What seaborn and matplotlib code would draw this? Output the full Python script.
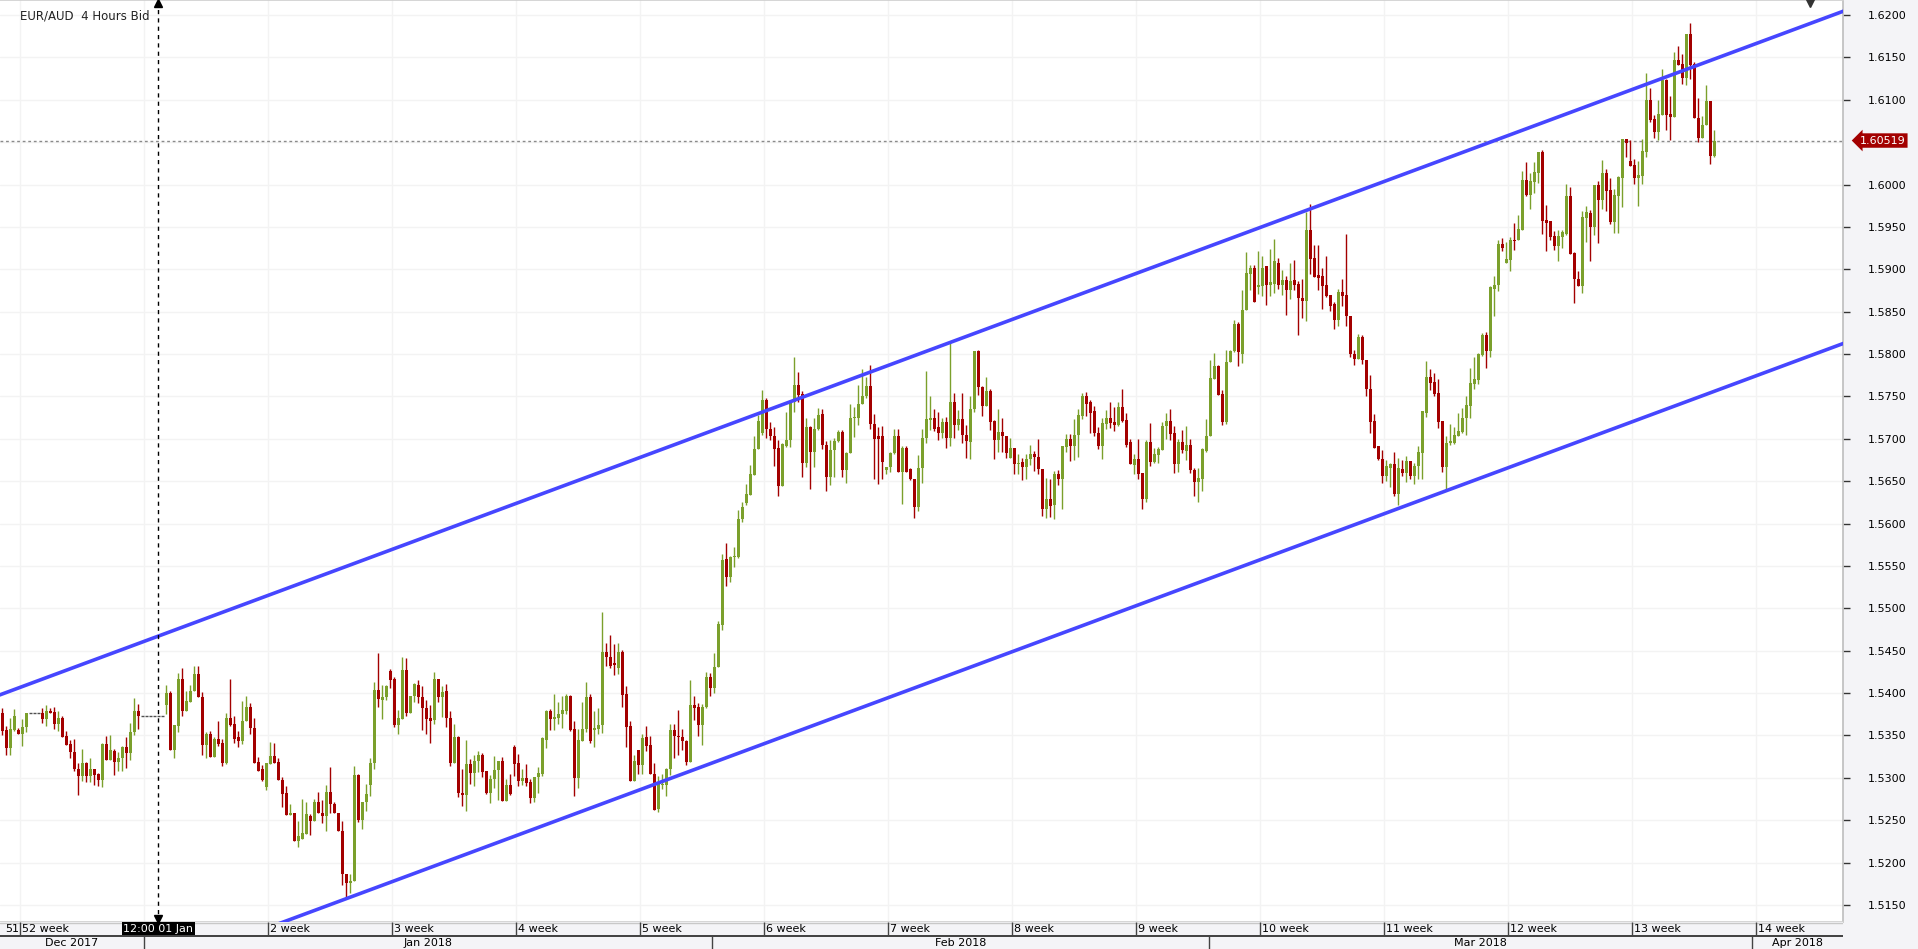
import numpy as np
import pandas as pd
import matplotlib
matplotlib.use("Agg")
import matplotlib.pyplot as plt
import matplotlib.transforms as mtransforms
from matplotlib.ticker import FormatStrFormatter
import seaborn as sns

# EUR/AUD 4h candles (open, high, low, close) in time order
seg_dec = [
    (1.5376, 1.5382, 1.5350, 1.5355), (1.5356, 1.5361, 1.5327, 1.5335), (1.5335, 1.5371, 1.5327, 1.5358),
    (1.5357, 1.5381, 1.5355, 1.5373), (1.5356, 1.5359, 1.5352, 1.5352), (1.5352, 1.5370, 1.5338, 1.5360),
    (1.5360, 1.5376, 1.5354, 1.5376), (1.5376, 1.5376, 1.5376, 1.5376), (1.5376, 1.5376, 1.5376, 1.5376),
    (1.5376, 1.5376, 1.5376, 1.5376), (1.5376, 1.5382, 1.5365, 1.5370), (1.5370, 1.5386, 1.5361, 1.5379),
    (1.5379, 1.5382, 1.5377, 1.5377), (1.5378, 1.5384, 1.5358, 1.5364), (1.5364, 1.5379, 1.5355, 1.5371),
    (1.5371, 1.5373, 1.5348, 1.5348), (1.5349, 1.5355, 1.5339, 1.5339), (1.5340, 1.5345, 1.5324, 1.5330),
    (1.5331, 1.5346, 1.5308, 1.5310), (1.5311, 1.5317, 1.5280, 1.5302), (1.5302, 1.5334, 1.5296, 1.5317),
    (1.5317, 1.5319, 1.5295, 1.5302), (1.5302, 1.5324, 1.5295, 1.5310), (1.5310, 1.5310, 1.5292, 1.5303),
    (1.5304, 1.5306, 1.5290, 1.5298), (1.5298, 1.5341, 1.5289, 1.5340), (1.5340, 1.5349, 1.5321, 1.5321),
    (1.5321, 1.5350, 1.5321, 1.5333), (1.5332, 1.5334, 1.5303, 1.5319), (1.5319, 1.5330, 1.5308, 1.5324),
    (1.5323, 1.5337, 1.5308, 1.5336), (1.5336, 1.5348, 1.5312, 1.5329), (1.5329, 1.5365, 1.5321, 1.5354),
    (1.5354, 1.5394, 1.5351, 1.5379), (1.5379, 1.5387, 1.5358, 1.5373),
]
seg_jan_a = [
    (1.5373, 1.5373, 1.5373, 1.5373), (1.5373, 1.5373, 1.5373, 1.5373), (1.5373, 1.5373, 1.5373, 1.5373),
    (1.5373, 1.5373, 1.5373, 1.5373), (1.5373, 1.5373, 1.5373, 1.5373), (1.5373, 1.5373, 1.5373, 1.5373),
    (1.5386, 1.5410, 1.5375, 1.5400), (1.5400, 1.5403, 1.5333, 1.5333), (1.5333, 1.5362, 1.5323, 1.5362),
    (1.5361, 1.5424, 1.5354, 1.5417), (1.5417, 1.5430, 1.5373, 1.5379), (1.5379, 1.5403, 1.5379, 1.5391),
    (1.5390, 1.5409, 1.5390, 1.5403), (1.5402, 1.5432, 1.5402, 1.5423), (1.5423, 1.5432, 1.5395, 1.5395),
    (1.5395, 1.5401, 1.5327, 1.5339), (1.5339, 1.5354, 1.5323, 1.5352), (1.5352, 1.5355, 1.5325, 1.5325),
    (1.5325, 1.5348, 1.5325, 1.5346), (1.5346, 1.5367, 1.5338, 1.5340), (1.5341, 1.5346, 1.5314, 1.5318),
    (1.5318, 1.5377, 1.5316, 1.5371), (1.5371, 1.5417, 1.5361, 1.5362), (1.5363, 1.5373, 1.5341, 1.5346),
    (1.5348, 1.5355, 1.5336, 1.5344), (1.5344, 1.5391, 1.5340, 1.5367), (1.5367, 1.5396, 1.5367, 1.5383),
    (1.5383, 1.5388, 1.5352, 1.5359), (1.5359, 1.5371, 1.5319, 1.5318), (1.5319, 1.5325, 1.5308, 1.5308),
    (1.5310, 1.5315, 1.5296, 1.5297), (1.5289, 1.5317, 1.5286, 1.5317), (1.5316, 1.5342, 1.5316, 1.5326),
    (1.5326, 1.5341, 1.5318, 1.5318), (1.5319, 1.5324, 1.5297, 1.5297), (1.5298, 1.5301, 1.5266, 1.5281),
    (1.5282, 1.5290, 1.5256, 1.5256), (1.5256, 1.5269, 1.5256, 1.5259), (1.5259, 1.5259, 1.5226, 1.5226),
    (1.5226, 1.5249, 1.5218, 1.5231), (1.5228, 1.5275, 1.5228, 1.5235), (1.5234, 1.5271, 1.5234, 1.5257),
    (1.5255, 1.5257, 1.5233, 1.5249), (1.5249, 1.5275, 1.5249, 1.5271), (1.5271, 1.5283, 1.5258, 1.5258),
    (1.5259, 1.5274, 1.5247, 1.5255), (1.5255, 1.5292, 1.5237, 1.5283),
]
seg_jan_b = [
    (1.5283, 1.5313, 1.5259, 1.5269), (1.5269, 1.5271, 1.5258, 1.5258), (1.5259, 1.5259, 1.5237, 1.5237),
    (1.5237, 1.5249, 1.5173, 1.5187), (1.5187, 1.5187, 1.5158, 1.5176), (1.5176, 1.5187, 1.5164, 1.5178),
    (1.5178, 1.5314, 1.5178, 1.5303), (1.5303, 1.5305, 1.5248, 1.5250), (1.5250, 1.5271, 1.5240, 1.5271),
    (1.5271, 1.5293, 1.5261, 1.5281), (1.5291, 1.5324, 1.5278, 1.5317), (1.5317, 1.5413, 1.5310, 1.5404),
    (1.5404, 1.5447, 1.5383, 1.5393), (1.5392, 1.5410, 1.5369, 1.5395), (1.5395, 1.5410, 1.5392, 1.5408),
    (1.5426, 1.5428, 1.5406, 1.5415), (1.5417, 1.5419, 1.5360, 1.5362), (1.5362, 1.5380, 1.5352, 1.5371),
    (1.5369, 1.5442, 1.5369, 1.5427), (1.5427, 1.5441, 1.5373, 1.5377), (1.5377, 1.5397, 1.5376, 1.5397),
    (1.5396, 1.5412, 1.5389, 1.5411), (1.5410, 1.5416, 1.5388, 1.5395), (1.5395, 1.5408, 1.5356, 1.5382),
    (1.5382, 1.5392, 1.5352, 1.5369), (1.5371, 1.5386, 1.5341, 1.5367), (1.5368, 1.5425, 1.5364, 1.5417),
    (1.5417, 1.5417, 1.5390, 1.5395), (1.5395, 1.5408, 1.5372, 1.5401), (1.5402, 1.5411, 1.5360, 1.5371),
    (1.5371, 1.5379, 1.5314, 1.5318), (1.5318, 1.5363, 1.5317, 1.5348), (1.5348, 1.5349, 1.5277, 1.5282),
    (1.5282, 1.5310, 1.5267, 1.5280), (1.5280, 1.5345, 1.5261, 1.5316), (1.5316, 1.5322, 1.5293, 1.5306),
    (1.5306, 1.5327, 1.5290, 1.5320), (1.5320, 1.5332, 1.5307, 1.5327), (1.5327, 1.5329, 1.5301, 1.5307),
    (1.5308, 1.5308, 1.5281, 1.5282), (1.5282, 1.5303, 1.5270, 1.5299), (1.5299, 1.5326, 1.5288, 1.5309),
    (1.5309, 1.5320, 1.5274, 1.5320), (1.5320, 1.5325, 1.5273, 1.5273), (1.5273, 1.5299, 1.5273, 1.5291),
    (1.5291, 1.5304, 1.5280, 1.5281), (1.5336, 1.5339, 1.5302, 1.5316), (1.5317, 1.5328, 1.5290, 1.5296),
    (1.5296, 1.5310, 1.5291, 1.5300), (1.5300, 1.5316, 1.5290, 1.5294), (1.5295, 1.5299, 1.5270, 1.5276),
    (1.5276, 1.5301, 1.5271, 1.5301), (1.5301, 1.5313, 1.5282, 1.5306), (1.5305, 1.5348, 1.5302, 1.5347),
    (1.5345, 1.5380, 1.5335, 1.5379), (1.5379, 1.5381, 1.5356, 1.5369), (1.5369, 1.5399, 1.5356, 1.5372),
    (1.5371, 1.5390, 1.5363, 1.5375), (1.5375, 1.5397, 1.5359, 1.5380), (1.5379, 1.5399, 1.5375, 1.5397),
    (1.5397, 1.5398, 1.5355, 1.5357), (1.5358, 1.5367, 1.5279, 1.5300), (1.5300, 1.5358, 1.5288, 1.5345),
    (1.5344, 1.5390, 1.5344, 1.5358), (1.5358, 1.5413, 1.5354, 1.5395), (1.5395, 1.5399, 1.5341, 1.5344),
    (1.5356, 1.5379, 1.5336, 1.5359), (1.5358, 1.5382, 1.5352, 1.5362), (1.5362, 1.5496, 1.5353, 1.5449),
    (1.5449, 1.5459, 1.5432, 1.5442), (1.5443, 1.5469, 1.5430, 1.5432), (1.5436, 1.5458, 1.5421, 1.5433),
    (1.5430, 1.5459, 1.5423, 1.5448), (1.5448, 1.5451, 1.5384, 1.5398), (1.5399, 1.5408, 1.5336, 1.5360),
    (1.5361, 1.5367, 1.5296, 1.5296), (1.5296, 1.5327, 1.5296, 1.5320), (1.5333, 1.5333, 1.5305, 1.5315),
    (1.5315, 1.5352, 1.5305, 1.5347), (1.5348, 1.5361, 1.5332, 1.5337), (1.5339, 1.5349, 1.5305, 1.5305),
    (1.5305, 1.5318, 1.5262, 1.5262), (1.5263, 1.5302, 1.5260, 1.5293),
]
seg_feb_a = [
    (1.5292, 1.5305, 1.5287, 1.5293), (1.5292, 1.5312, 1.5278, 1.5311), (1.5311, 1.5364, 1.5303, 1.5357),
    (1.5357, 1.5364, 1.5323, 1.5349), (1.5349, 1.5380, 1.5327, 1.5348), (1.5348, 1.5358, 1.5333, 1.5343),
    (1.5343, 1.5345, 1.5315, 1.5319), (1.5319, 1.5415, 1.5319, 1.5386), (1.5386, 1.5397, 1.5368, 1.5382),
    (1.5383, 1.5388, 1.5349, 1.5362), (1.5362, 1.5387, 1.5339, 1.5384), (1.5384, 1.5425, 1.5382, 1.5419),
    (1.5419, 1.5424, 1.5396, 1.5406), (1.5406, 1.5447, 1.5400, 1.5431), (1.5431, 1.5485, 1.5431, 1.5482),
    (1.5480, 1.5564, 1.5475, 1.5557), (1.5558, 1.5577, 1.5526, 1.5537), (1.5537, 1.5562, 1.5531, 1.5561),
    (1.5560, 1.5572, 1.5549, 1.5562), (1.5561, 1.5616, 1.5559, 1.5605), (1.5605, 1.5625, 1.5602, 1.5619),
    (1.5624, 1.5647, 1.5622, 1.5635), (1.5634, 1.5669, 1.5634, 1.5658), (1.5657, 1.5703, 1.5657, 1.5688),
    (1.5688, 1.5728, 1.5688, 1.5721), (1.5707, 1.5758, 1.5705, 1.5746), (1.5746, 1.5748, 1.5701, 1.5712),
    (1.5712, 1.5720, 1.5699, 1.5703), (1.5703, 1.5714, 1.5668, 1.5688), (1.5689, 1.5699, 1.5633, 1.5644),
    (1.5644, 1.5695, 1.5644, 1.5694), (1.5692, 1.5732, 1.5690, 1.5699), (1.5699, 1.5743, 1.5690, 1.5743),
    (1.5743, 1.5797, 1.5732, 1.5764), (1.5764, 1.5779, 1.5744, 1.5752), (1.5753, 1.5756, 1.5655, 1.5672),
    (1.5672, 1.5725, 1.5667, 1.5714), (1.5714, 1.5715, 1.5641, 1.5684), (1.5684, 1.5724, 1.5667, 1.5712),
    (1.5712, 1.5736, 1.5710, 1.5728), (1.5729, 1.5735, 1.5688, 1.5693), (1.5693, 1.5697, 1.5638, 1.5655),
    (1.5655, 1.5699, 1.5645, 1.5687), (1.5687, 1.5701, 1.5655, 1.5697), (1.5697, 1.5710, 1.5696, 1.5708),
    (1.5708, 1.5710, 1.5655, 1.5663), (1.5663, 1.5685, 1.5648, 1.5683), (1.5683, 1.5741, 1.5683, 1.5724),
    (1.5724, 1.5737, 1.5702, 1.5725), (1.5725, 1.5764, 1.5716, 1.5741), (1.5741, 1.5782, 1.5741, 1.5750),
    (1.5750, 1.5773, 1.5748, 1.5762), (1.5762, 1.5787, 1.5712, 1.5717), (1.5717, 1.5729, 1.5653, 1.5700),
    (1.5703, 1.5714, 1.5647, 1.5700), (1.5703, 1.5715, 1.5653, 1.5673), (1.5663, 1.5667, 1.5659, 1.5667),
    (1.5667, 1.5685, 1.5661, 1.5683), (1.5683, 1.5712, 1.5682, 1.5703), (1.5703, 1.5712, 1.5661, 1.5661),
    (1.5661, 1.5691, 1.5623, 1.5689), (1.5689, 1.5691, 1.5661, 1.5661), (1.5664, 1.5666, 1.5651, 1.5653),
    (1.5653, 1.5653, 1.5607, 1.5619), (1.5620, 1.5681, 1.5615, 1.5665), (1.5665, 1.5711, 1.5648, 1.5701),
    (1.5701, 1.5780, 1.5695, 1.5723), (1.5722, 1.5750, 1.5710, 1.5724), (1.5724, 1.5735, 1.5709, 1.5711),
    (1.5714, 1.5732, 1.5699, 1.5707), (1.5707, 1.5724, 1.5701, 1.5720), (1.5720, 1.5726, 1.5689, 1.5701),
    (1.5701, 1.5815, 1.5691, 1.5743), (1.5743, 1.5754, 1.5701, 1.5716), (1.5716, 1.5734, 1.5710, 1.5723),
    (1.5723, 1.5754, 1.5695, 1.5704), (1.5704, 1.5716, 1.5677, 1.5697), (1.5696, 1.5751, 1.5676, 1.5735),
    (1.5735, 1.5804, 1.5732, 1.5803), (1.5803, 1.5805, 1.5752, 1.5761),
]
seg_feb_b = [
    (1.5761, 1.5762, 1.5727, 1.5739), (1.5739, 1.5773, 1.5739, 1.5756), (1.5756, 1.5759, 1.5710, 1.5720),
    (1.5721, 1.5722, 1.5676, 1.5699), (1.5699, 1.5735, 1.5684, 1.5708), (1.5708, 1.5725, 1.5685, 1.5703),
    (1.5703, 1.5703, 1.5677, 1.5683), (1.5677, 1.5701, 1.5677, 1.5689), (1.5689, 1.5689, 1.5658, 1.5670),
    (1.5670, 1.5682, 1.5659, 1.5672), (1.5673, 1.5677, 1.5651, 1.5667), (1.5667, 1.5682, 1.5652, 1.5676),
    (1.5676, 1.5693, 1.5669, 1.5682), (1.5682, 1.5686, 1.5662, 1.5678), (1.5679, 1.5700, 1.5658, 1.5664),
    (1.5664, 1.5664, 1.5609, 1.5617), (1.5617, 1.5654, 1.5607, 1.5629), (1.5629, 1.5652, 1.5608, 1.5621),
    (1.5622, 1.5662, 1.5605, 1.5659), (1.5659, 1.5663, 1.5645, 1.5652), (1.5652, 1.5692, 1.5617, 1.5691),
    (1.5690, 1.5706, 1.5685, 1.5700), (1.5700, 1.5706, 1.5674, 1.5692), (1.5692, 1.5723, 1.5675, 1.5705),
    (1.5704, 1.5735, 1.5679, 1.5728), (1.5727, 1.5754, 1.5723, 1.5750), (1.5750, 1.5755, 1.5727, 1.5741),
    (1.5743, 1.5746, 1.5707, 1.5731), (1.5733, 1.5739, 1.5703, 1.5707), (1.5707, 1.5714, 1.5688, 1.5692),
    (1.5692, 1.5724, 1.5676, 1.5719), (1.5718, 1.5734, 1.5712, 1.5724), (1.5724, 1.5743, 1.5713, 1.5719),
    (1.5720, 1.5738, 1.5709, 1.5716), (1.5716, 1.5743, 1.5715, 1.5738), (1.5738, 1.5759, 1.5720, 1.5721),
    (1.5722, 1.5731, 1.5690, 1.5693), (1.5696, 1.5700, 1.5670, 1.5670), (1.5669, 1.5682, 1.5658, 1.5676),
    (1.5676, 1.5700, 1.5652, 1.5659), (1.5660, 1.5660, 1.5617, 1.5629), (1.5629, 1.5698, 1.5625, 1.5696),
    (1.5696, 1.5719, 1.5668, 1.5673), (1.5673, 1.5689, 1.5672, 1.5682), (1.5681, 1.5690, 1.5671, 1.5688),
    (1.5687, 1.5720, 1.5687, 1.5715), (1.5715, 1.5731, 1.5700, 1.5721), (1.5721, 1.5735, 1.5699, 1.5706),
    (1.5707, 1.5715, 1.5660, 1.5670), (1.5670, 1.5700, 1.5661, 1.5696), (1.5696, 1.5710, 1.5683, 1.5687),
    (1.5686, 1.5715, 1.5675, 1.5693), (1.5693, 1.5700, 1.5660, 1.5663), (1.5663, 1.5666, 1.5633, 1.5649),
    (1.5649, 1.5666, 1.5626, 1.5654), (1.5652, 1.5689, 1.5639, 1.5688), (1.5686, 1.5723, 1.5684, 1.5703),
    (1.5703, 1.5793, 1.5703, 1.5772), (1.5771, 1.5801, 1.5771, 1.5786), (1.5786, 1.5787, 1.5752, 1.5752),
    (1.5753, 1.5758, 1.5716, 1.5720), (1.5720, 1.5805, 1.5718, 1.5791), (1.5791, 1.5805, 1.5791, 1.5804),
]
seg_mar_a = [
    (1.5803, 1.5840, 1.5802, 1.5836), (1.5836, 1.5838, 1.5786, 1.5802), (1.5800, 1.5876, 1.5790, 1.5852),
    (1.5852, 1.5920, 1.5852, 1.5896), (1.5895, 1.5905, 1.5875, 1.5902), (1.5902, 1.5905, 1.5861, 1.5861),
    (1.5879, 1.5922, 1.5871, 1.5881), (1.5880, 1.5916, 1.5868, 1.5902), (1.5904, 1.5904, 1.5858, 1.5881),
    (1.5881, 1.5924, 1.5868, 1.5885), (1.5883, 1.5936, 1.5872, 1.5910), (1.5908, 1.5913, 1.5877, 1.5881),
    (1.5881, 1.5899, 1.5870, 1.5887), (1.5887, 1.5892, 1.5846, 1.5875), (1.5875, 1.5908, 1.5865, 1.5886),
    (1.5887, 1.5911, 1.5876, 1.5881), (1.5883, 1.5886, 1.5822, 1.5866), (1.5866, 1.5889, 1.5842, 1.5862),
    (1.5862, 1.5967, 1.5839, 1.5946),
]
seg_mar_b = [
    (1.5946, 1.5977, 1.5894, 1.5912), (1.5913, 1.5929, 1.5891, 1.5891), (1.5893, 1.5929, 1.5875, 1.5890),
    (1.5892, 1.5902, 1.5853, 1.5880), (1.5881, 1.5916, 1.5867, 1.5868), (1.5870, 1.5870, 1.5851, 1.5857),
    (1.5859, 1.5861, 1.5829, 1.5840), (1.5840, 1.5877, 1.5833, 1.5873), (1.5873, 1.5888, 1.5857, 1.5869),
    (1.5870, 1.5942, 1.5833, 1.5845), (1.5845, 1.5845, 1.5796, 1.5800), (1.5800, 1.5805, 1.5787, 1.5794),
    (1.5794, 1.5824, 1.5794, 1.5820), (1.5820, 1.5822, 1.5788, 1.5793), (1.5793, 1.5793, 1.5750, 1.5759),
    (1.5759, 1.5775, 1.5707, 1.5720), (1.5721, 1.5729, 1.5689, 1.5689), (1.5691, 1.5691, 1.5675, 1.5676),
    (1.5676, 1.5687, 1.5648, 1.5656), (1.5656, 1.5675, 1.5650, 1.5668), (1.5666, 1.5671, 1.5643, 1.5670),
    (1.5670, 1.5685, 1.5632, 1.5635), (1.5635, 1.5677, 1.5622, 1.5665), (1.5664, 1.5675, 1.5656, 1.5660),
    (1.5660, 1.5680, 1.5649, 1.5674), (1.5674, 1.5674, 1.5653, 1.5656), (1.5656, 1.5671, 1.5647, 1.5668),
    (1.5668, 1.5692, 1.5652, 1.5685), (1.5683, 1.5733, 1.5652, 1.5733), (1.5731, 1.5792, 1.5726, 1.5773),
    (1.5773, 1.5782, 1.5758, 1.5766), (1.5767, 1.5778, 1.5751, 1.5753), (1.5754, 1.5771, 1.5713, 1.5720),
    (1.5721, 1.5721, 1.5661, 1.5667), (1.5667, 1.5703, 1.5640, 1.5695), (1.5695, 1.5717, 1.5693, 1.5697),
    (1.5695, 1.5714, 1.5694, 1.5704), (1.5703, 1.5731, 1.5703, 1.5709), (1.5708, 1.5736, 1.5707, 1.5725),
    (1.5724, 1.5751, 1.5704, 1.5740), (1.5739, 1.5784, 1.5724, 1.5766), (1.5765, 1.5796, 1.5759, 1.5770),
    (1.5769, 1.5801, 1.5765, 1.5800), (1.5799, 1.5825, 1.5798, 1.5822), (1.5822, 1.5826, 1.5784, 1.5803),
    (1.5803, 1.5880, 1.5797, 1.5879),
]
seg_mar_c = [
    (1.5877, 1.5892, 1.5845, 1.5881), (1.5881, 1.5934, 1.5874, 1.5930), (1.5930, 1.5937, 1.5921, 1.5925),
    (1.5907, 1.5932, 1.5907, 1.5912), (1.5911, 1.5938, 1.5898, 1.5934), (1.5934, 1.5955, 1.5923, 1.5933),
    (1.5934, 1.5964, 1.5934, 1.5947), (1.5946, 1.6016, 1.5946, 1.6005), (1.6005, 1.6026, 1.5986, 1.5988),
    (1.5988, 1.6014, 1.5971, 1.6004), (1.6003, 1.6026, 1.5990, 1.6015), (1.6014, 1.6038, 1.6002, 1.6038),
    (1.6038, 1.6041, 1.5942, 1.5957), (1.5958, 1.5976, 1.5921, 1.5955), (1.5957, 1.5957, 1.5935, 1.5938),
    (1.5939, 1.5945, 1.5923, 1.5927), (1.5927, 1.5946, 1.5910, 1.5939), (1.5938, 1.5946, 1.5925, 1.5944),
    (1.5942, 1.6001, 1.5940, 1.5986), (1.5986, 1.5997, 1.5918, 1.5918), (1.5919, 1.5920, 1.5860, 1.5889),
    (1.5889, 1.5898, 1.5880, 1.5880), (1.5880, 1.5969, 1.5872, 1.5962), (1.5961, 1.5975, 1.5932, 1.5967),
    (1.5966, 1.5970, 1.5910, 1.5950), (1.5950, 1.5999, 1.5940, 1.5999), (1.5999, 1.6004, 1.5931, 1.5982),
    (1.5982, 1.6029, 1.5971, 1.6014), (1.6014, 1.6018, 1.5969, 1.5992), (1.5993, 1.6008, 1.5953, 1.5956),
    (1.5956, 1.5995, 1.5943, 1.5988), (1.5986, 1.6010, 1.5943, 1.6009), (1.6008, 1.6054, 1.5974, 1.6054),
    (1.6054, 1.6054, 1.6033, 1.6049), (1.6028, 1.6053, 1.6022, 1.6022), (1.6023, 1.6030, 1.6001, 1.6008),
    (1.6008, 1.6028, 1.5975, 1.6011), (1.6010, 1.6054, 1.6001, 1.6039),
]
seg_mar_d = [
    (1.6038, 1.6132, 1.6033, 1.6100), (1.6100, 1.6114, 1.6074, 1.6076), (1.6077, 1.6082, 1.6055, 1.6062),
    (1.6062, 1.6100, 1.6053, 1.6083), (1.6082, 1.6136, 1.6082, 1.6123), (1.6123, 1.6125, 1.6064, 1.6082),
    (1.6083, 1.6104, 1.6052, 1.6080), (1.6080, 1.6156, 1.6080, 1.6147), (1.6147, 1.6163, 1.6141, 1.6141),
    (1.6142, 1.6154, 1.6119, 1.6126), (1.6126, 1.6178, 1.6117, 1.6178), (1.6178, 1.6191, 1.6125, 1.6141),
    (1.6142, 1.6145, 1.6079, 1.6079), (1.6079, 1.6102, 1.6050, 1.6055), (1.6055, 1.6081, 1.6055, 1.6070),
    (1.6070, 1.6117, 1.6070, 1.6099), (1.6099, 1.6099, 1.6024, 1.6034), (1.6034, 1.6064, 1.6032, 1.60519),
]

# channel lines: two anchor points each (bar index, price)
upper_bars, upper_prices = [0, 428], [1.5399, 1.6148]
lower_bars, lower_prices = [0, 428], [1.5007, 1.5756]

last_price = 1.60519
price_ticks = np.arange(1.5150, 1.62001, 0.005)
hidden_tick = 1.6050  # covered by the last-price marker
week_names = ["52 week", "1 week", "2 week", "3 week", "4 week", "5 week", "6 week", "7 week",
              "8 week", "9 week", "10 week", "11 week", "12 week", "13 week", "14 week"]
first_week_bar = 4.4
bars_per_week = 31
month_names = ["Dec 2017", "Jan 2018", "Feb 2018", "Mar 2018", "Apr 2018"]
month_edges = [-0.6, 35.4, 177.4, 301.6, 437.4, 460.2]
crosshair_bar = 39
crosshair_label = "12:00 01 Jan"

candles = seg_dec + seg_jan_a + seg_jan_b + seg_feb_a + seg_feb_b + seg_mar_a + seg_mar_b + seg_mar_c + seg_mar_d
df = pd.DataFrame(candles, columns=["open", "high", "low", "close"])
df["bar"] = np.arange(len(df))

GREEN = "#7ba02c"
RED = "#a30000"
BLUE = "#4646ff"
PANEL = "#f4f4f7"

sns.set_theme(style="white")
plt.rcParams["font.family"] = ["DejaVu Sans"]

W, H = 1918, 949
plot_w, plot_h = 1843, 922
fig = plt.figure(figsize=(W / 100, H / 100), dpi=100)
fig.patch.set_facecolor(PANEL)
ax = fig.add_axes([0, (H - plot_h) / H, plot_w / W, plot_h / H])
ax.set_facecolor("white")

x_lo, x_hi = -0.6, 460.2
y_hi = 1.62177
y_lo = y_hi - plot_h / 8476
ax.set_xlim(x_lo, x_hi)
ax.set_ylim(y_lo, y_hi)

# grid
for p in price_ticks:
    ax.axhline(p, color="#f3f3f3", lw=1, zorder=0)
week_bars = [first_week_bar + bars_per_week * k for k in range(len(week_names))]
for wb in week_bars:
    ax.axvline(wb, color="#f3f3f3", lw=1, zorder=0)

# candles
flat = df["high"] == df["low"]
up = (df["close"] >= df["open"]) & ~flat
down = (df["close"] < df["open"]) & ~flat
for mask, col in [(up, GREEN), (down, RED)]:
    d = df[mask]
    lo = np.minimum(d["low"], np.minimum(d["open"], d["close"]))
    hi = np.maximum(d["high"], np.maximum(d["open"], d["close"]))
    ax.vlines(d["bar"], lo, hi, color=col, lw=1.0, zorder=3)
    body_lo = np.minimum(d["open"], d["close"])
    body_h = np.maximum(np.abs(d["close"] - d["open"]), 0.00012)
    ax.bar(d["bar"], body_h, bottom=body_lo, width=0.72, color=col, linewidth=0, zorder=4)
fd = df[flat]
ax.hlines(fd["close"], fd["bar"] - 0.34, fd["bar"] + 0.34, color="#505050", lw=1.0, zorder=3)

# channel lines, extended across the pane
lines = []
for name, bx, py in [("upper", upper_bars, upper_prices), ("lower", lower_bars, lower_prices)]:
    slope = (py[1] - py[0]) / (bx[1] - bx[0])
    xs = [x_lo - 2, x_hi + 2]
    lines.append(pd.DataFrame({"bar": xs, "price": [py[0] + slope * (v - bx[0]) for v in xs], "line": name}))
lines = pd.concat(lines)
sns.lineplot(data=lines, x="bar", y="price", units="line", estimator=None, color=BLUE, lw=2.6, ax=ax, zorder=5)

# last price line
ax.axhline(last_price, color="#8a8a8a", lw=1, ls=(0, (2, 2)), zorder=2)

# crosshair
ax.axvline(crosshair_bar, color="black", lw=1, ls=(0, (3, 3)), zorder=6)
ax.plot([crosshair_bar], [y_hi - 0.0004], marker="^", color="black", ms=6, zorder=7, clip_on=False)
ax.plot([crosshair_bar], [y_lo + 0.0004], marker="v", color="black", ms=6, zorder=7, clip_on=False)
ax.plot([452], [y_hi - 0.0004], marker="v", color="#333333", ms=6, zorder=7, clip_on=False)

ax.text(20 / plot_w, 1 - 16 / plot_h, "EUR/AUD  4 Hours Bid", transform=ax.transAxes,
        ha="left", va="center", fontsize=8.5, color="#222222")

# axes frame and right price scale
ax.spines["left"].set_visible(False)
ax.spines["top"].set_color("#d0d0d0")
ax.spines["right"].set_color("#c0c0c0")
ax.spines["bottom"].set_color("#d0d0d0")
ax.set_xticks([])
ax.yaxis.tick_right()
shown_ticks = [p for p in price_ticks if abs(p - hidden_tick) > 1e-6]
ax.set_yticks(shown_ticks)
ax.yaxis.set_major_formatter(FormatStrFormatter("%.4f"))
ax.tick_params(axis="y", direction="out", length=5, width=1, color="#333333", pad=13,
               labelsize=8, labelcolor="black", right=True)
ax.set_xlabel("")
ax.set_ylabel("")
if ax.get_legend() is not None:
    ax.get_legend().remove()

trans = mtransforms.blended_transform_factory(ax.transAxes, ax.transData)
ax.text(1.009, last_price, "1.60519", transform=trans, ha="left", va="center", fontsize=8,
        color="white", zorder=10, clip_on=False,
        bbox=dict(boxstyle="larrow,pad=0.2", fc=RED, ec="none"))

# time scale below the pane: week row and month row
axb = fig.add_axes([0, 0, plot_w / W, (H - plot_h) / H])
axb.set_facecolor(PANEL)
axb.set_xlim(x_lo, x_hi)
axb.set_ylim(0, H - plot_h)
axb.set_xticks([])
axb.set_yticks([])
for s in axb.spines.values():
    s.set_visible(False)
axb.axhline(13.5, color="#222222", lw=1.2)
axb.axhline(H - plot_h - 0.5, color="#c8c8c8", lw=1)
for name, wb in zip(week_names, week_bars):
    axb.vlines(wb, 14, H - plot_h, color="#444444", lw=1)
    if name != "1 week":
        axb.text(wb + 0.5, 20.5, name, ha="left", va="center", fontsize=8, color="black")
axb.text(0.7, 20.5, "51", ha="left", va="center", fontsize=8, color="black")
for i, name in enumerate(month_names):
    if i > 0:
        axb.vlines(month_edges[i], 0, 13, color="#444444", lw=1)
    axb.text((month_edges[i] + month_edges[i + 1]) / 2, 6.5, name, ha="center", va="center",
             fontsize=8, color="black")
axb.text(crosshair_bar, 20.5, crosshair_label, ha="center", va="center", fontsize=8, color="white",
         bbox=dict(boxstyle="square,pad=0.15", fc="black", ec="none"))

fig.savefig("out.png", dpi=100, facecolor=fig.get_facecolor())
